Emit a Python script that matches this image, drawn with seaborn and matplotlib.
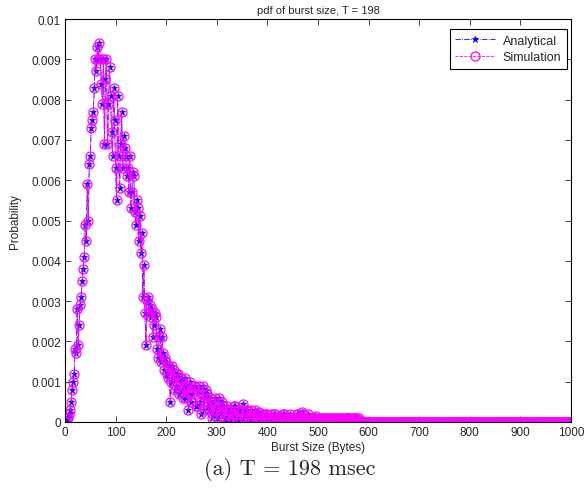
import numpy as np
import matplotlib
matplotlib.use("Agg")
import matplotlib.pyplot as plt
import seaborn as sns

# Burst sizes (bytes), sampled every 2 bytes
burst_size = np.arange(0, 1001, 2)

# Probability values (x = 0..600), then zero tail
analytical_head = [
    # x 0..38
    0.0000, 0.0000, 0.0001, 0.0001, 0.0002, 0.0003, 0.0005, 0.0008, 0.0010, 0.0012,
    0.0018, 0.0017, 0.0028, 0.0019, 0.0024, 0.0029, 0.0031, 0.0035, 0.0038, 0.0041,
    # x 40..78
    0.0049, 0.0045, 0.0059, 0.0050, 0.0064, 0.0066, 0.0073, 0.0075, 0.0077, 0.0083,
    0.0090, 0.0087, 0.0093, 0.0090, 0.0094, 0.0090, 0.0084, 0.0079, 0.0090, 0.0069,
    # x 80..118
    0.0085, 0.0090, 0.0069, 0.0079, 0.0088, 0.0081, 0.0072, 0.0066, 0.0083, 0.0075,
    0.0063, 0.0055, 0.0081, 0.0066, 0.0058, 0.0069, 0.0077, 0.0063, 0.0071, 0.0068,
    # x 120..158
    0.0066, 0.0061, 0.0063, 0.0057, 0.0066, 0.0053, 0.0057, 0.0062, 0.0061, 0.0052,
    0.0049, 0.0055, 0.0053, 0.0045, 0.0051, 0.0042, 0.0047, 0.0031, 0.0039, 0.0027,
    # x 160..198
    0.0019, 0.0030, 0.0031, 0.0027, 0.0029, 0.0026, 0.0028, 0.0021, 0.0024, 0.0027,
    0.0026, 0.0018, 0.0016, 0.0021, 0.0023, 0.0015, 0.0021, 0.0017, 0.0013, 0.0016,
    # x 200..238
    0.0015, 0.0012, 0.0011, 0.0014, 0.0005, 0.0010, 0.0014, 0.0011, 0.0013, 0.0008,
    0.0009, 0.0012, 0.0012, 0.0007, 0.0008, 0.0011, 0.0010, 0.0006, 0.0009, 0.0011,
    # x 240..278
    0.0006, 0.0009, 0.0003, 0.0007, 0.0010, 0.0005, 0.0007, 0.0009, 0.0009, 0.0004,
    0.0004, 0.0008, 0.0009, 0.0005, 0.0002, 0.0007, 0.0009, 0.0003, 0.0006, 0.0008,
    # x 280..318
    0.0007, 0.0004, 0.0003, 0.0006, 0.0005, 0.0001, 0.0002, 0.0005, 0.0006, 0.0003,
    0.0001, 0.0004, 0.0006, 0.0002, 0.0003, 0.0005, 0.0004, 0.0000, 0.0001, 0.0003,
    # x 320..358
    0.0004, 0.0002, 0.0000, 0.0003, 0.0003, 0.0001, 0.0002, 0.0004, 0.0004, 0.0000,
    0.0001, 0.0003, 0.0003, 0.0001, 0.0000, 0.0003, 0.00045, 0.0001, 0.0002, 0.0003,
    # x 360..398
    0.0003, 0.0000, 0.0001, 0.0002, 0.0003, 0.0001, 0.0000, 0.0002, 0.0003, 0.0000,
    0.0002, 0.0001, 0.00025, 0.0001, 0.0000, 0.0002, 0.0002, 0.0000, 0.0001, 0.0002,
    # x 400..438
    0.0002, 0.0001, 0.0000, 0.0001, 0.0002, 0.0000, 0.0001, 0.0002, 0.0002, 0.0001,
    0.0000, 0.0001, 0.00015, 0.0000, 0.0001, 0.0002, 0.0002, 0.0000, 0.0000, 0.0001,
    # x 440..478
    0.0001, 0.0000, 0.0002, 0.0001, 0.0000, 0.0001, 0.0001, 0.0000, 0.0001, 0.0002,
    0.0002, 0.0001, 0.0000, 0.0001, 0.00025, 0.0002, 0.0001, 0.0000, 0.0000, 0.0001,
    # x 480..518
    0.0002, 0.0001, 0.0001, 0.0000, 0.0000, 0.0001, 0.0001, 0.0001, 0.00015, 0.0000,
    0.0000, 0.0001, 0.0001, 0.0000, 0.0001, 0.0001, 0.0000, 0.0001, 0.0001, 0.0000,
    # x 520..558
    0.0001, 0.0001, 0.0000, 0.0001, 0.0001, 0.0000, 0.0001, 0.0001, 0.0000, 0.0001,
    0.0001, 0.0000, 0.0001, 0.0001, 0.0000, 0.0001, 0.0001, 0.0000, 0.0001, 0.0001,
    # x 560..598
    0.0001, 0.0001, 0.0001, 0.0000, 0.0000, 0.0001, 0.0001, 0.0001, 0.0001, 0.0000,
    0.0000, 0.0001, 0.00005, 0.0000, 0.0000, 0.0000, 0.0000, 0.0000, 0.0000, 0.0000,
    # x 600
    0.0000,
]
tail_zeros = [0.0] * (len(burst_size) - len(analytical_head))
analytical = analytical_head + tail_zeros
simulation = list(analytical)

xtick_values = [0, 100, 200, 300, 400, 500, 600, 700, 800, 900, 1000]
ytick_values = [0, 0.001, 0.002, 0.003, 0.004, 0.005, 0.006, 0.007, 0.008, 0.009, 0.01]
ytick_labels = ["0", "0.001", "0.002", "0.003", "0.004", "0.005", "0.006",
                "0.007", "0.008", "0.009", "0.01"]

sns.set_style("ticks")
plt.rcParams["font.family"] = ["Liberation Sans", "DejaVu Sans"]

fig = plt.figure(figsize=(5.87, 4.89), dpi=100)
ax = fig.add_axes([0.1107, 0.135, 0.862, 0.824])

sns.lineplot(x=burst_size, y=analytical, ax=ax, color="#0000FF", linestyle="-.",
             linewidth=0.6, marker="*", markersize=5, markeredgewidth=0.6,
             markeredgecolor="#0000FF", markerfacecolor="#0000FF",
             label="Analytical", sort=False, estimator=None)
sns.lineplot(x=burst_size, y=simulation, ax=ax, color="#FF00FF", linestyle="--",
             linewidth=0.6, marker="o", markersize=6.5, markeredgewidth=0.9,
             markeredgecolor="#FF00FF", markerfacecolor="none",
             label="Simulation", sort=False, estimator=None)

ax.set_xlim(0, 1000)
ax.set_ylim(0, 0.01)
ax.set_xticks(xtick_values)
ax.set_xticklabels([str(v) for v in xtick_values])
ax.set_yticks(ytick_values)
ax.set_yticklabels(ytick_labels)
ax.tick_params(direction="in", top=True, right=True, labelsize=8.5, length=4,
               width=0.6, pad=3)
for s in ax.spines.values():
    s.set_linewidth(0.8)
    s.set_color("black")

ax.set_title("pdf of burst size, T = 198", fontsize=8, pad=4)
ax.set_xlabel("Burst Size (Bytes)", fontsize=8.5, labelpad=2)
ax.set_ylabel("Probability", fontsize=8.5, labelpad=7)

leg = ax.legend(loc="upper right", bbox_to_anchor=(0.992, 0.975),
                fontsize=9, frameon=True, fancybox=False,
                edgecolor="black", framealpha=1, handlelength=3.2,
                borderpad=0.45, labelspacing=0.35, handletextpad=0.6,
                borderaxespad=0.0)
leg.get_frame().set_linewidth(0.8)

fig.text(0.494, 0.040, "(a) T = 198 msec", ha="center", va="center",
         fontsize=16, family="cmr10")

fig.savefig("out.png", dpi=100)
